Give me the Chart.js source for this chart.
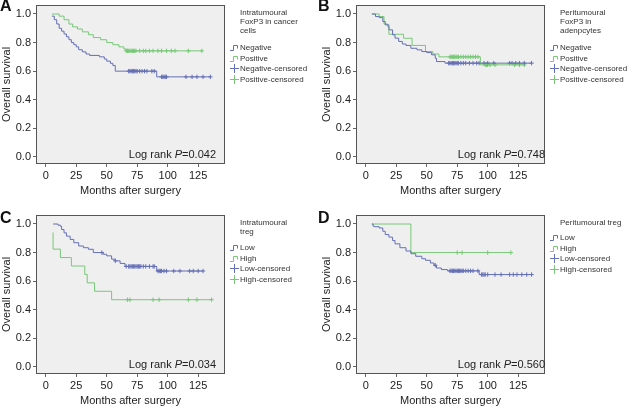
<!DOCTYPE html>
<html>
<head>
<meta charset="utf-8">
<script src="https://cdn.jsdelivr.net/npm/chart.js@4.4.1/dist/chart.umd.min.js"></script>
<style>
    body { margin: 0; background: #fff; font-family: "Liberation Sans", Arial, sans-serif; color: #222; }
    #wrap { position: relative; width: 632px; height: 407px; overflow: hidden; }
    #wrap canvas { position: absolute; }
    .tag { position: absolute; font-weight: bold; font-size: 16px; line-height: 16px; color: #111; }
    .logrank { position: absolute; font-size: 11px; line-height: 13px; text-align: right; white-space: nowrap; }
    .leg { position: absolute; font-size: 8px; line-height: 9px; color: #333; white-space: nowrap; }
    .row { display: flex; align-items: center; gap: 1px; height: 9px; }
    .row svg { flex: none; }
</style>
</head>
<body>
<div id="wrap"></div>
<script>
const xTicks = [0, 25, 50, 75, 100, 125];
const yTicks = [0, 0.2, 0.4, 0.6, 0.8, 1.0];

// A - intratumoural FoxP3 in cancer cells
const aNegTime = [5, 7, 9, 11, 13, 15, 17, 19, 21, 23, 25, 27, 30, 33, 36, 44, 48, 50, 53, 55, 57, 91, 135];
const aNegSurv = [0.985, 0.96, 0.93, 0.90, 0.88, 0.86, 0.84, 0.82, 0.80, 0.785, 0.77, 0.75, 0.735, 0.72, 0.71, 0.70, 0.685, 0.67, 0.655, 0.64, 0.60, 0.56, 0.56];
const aNegCens = [68, 69, 70, 71, 72, 73, 74, 75, 77, 79, 81, 83, 87, 89, 95, 96, 97, 98, 99, 115, 120, 124, 129, 135];
const aPosTime = [5, 11, 15, 19, 22, 26, 30, 35, 39, 45, 50, 55, 60, 64, 66, 128];
const aPosSurv = [1.0, 0.985, 0.96, 0.93, 0.91, 0.895, 0.875, 0.855, 0.835, 0.82, 0.80, 0.785, 0.77, 0.755, 0.742, 0.742];
const aPosCens = [66, 67, 68, 69, 70, 71, 72, 73, 74, 77, 80, 82, 85, 88, 92, 95, 99, 103, 106, 117, 128];

// B - peritumoural FoxP3 in adenpcytes
const bNegTime = [5, 8, 11, 14, 16, 19, 22, 24, 27, 30, 33, 37, 42, 46, 50, 54, 57, 58, 65, 136];
const bNegSurv = [1.0, 0.982, 0.975, 0.947, 0.924, 0.889, 0.854, 0.831, 0.808, 0.79, 0.78, 0.76, 0.749, 0.737, 0.73, 0.714, 0.69, 0.667, 0.656, 0.656];
const bNegCens = [68, 69, 70, 71, 72, 73, 74, 75, 76, 78, 80, 82, 85, 88, 91, 93, 97, 100, 105, 118, 120, 123, 126, 130, 136];
const bPosTime = [5, 11, 15, 18, 19, 31, 38, 49, 55, 60, 94, 130];
const bPosSurv = [1.0, 0.982, 0.93, 0.91, 0.858, 0.83, 0.78, 0.737, 0.72, 0.70, 0.644, 0.644];
const bPosCens = [69, 70, 71, 72, 73, 74, 75, 76, 78, 80, 82, 84, 86, 88, 90, 92, 98, 99, 100, 102, 106, 122, 126, 130];

// C - intratumoural treg
const cLowTime = [6, 10, 12, 13, 15, 17, 20, 23, 27, 31, 35, 39, 47, 50, 54, 57, 61, 65, 91, 129];
const cLowSurv = [1.0, 0.992, 0.984, 0.961, 0.938, 0.915, 0.892, 0.869, 0.846, 0.834, 0.823, 0.80, 0.788, 0.777, 0.754, 0.742, 0.724, 0.703, 0.671, 0.671];
const cLowCens = [46, 57, 66, 68, 69, 70, 71, 72, 73, 74, 75, 76, 77, 78, 80, 82, 85, 88, 89, 92, 93, 94, 95, 97, 99, 105, 110, 118, 121, 125, 129];
const cHighTime = [6, 6, 12, 21, 32, 34, 40, 54, 136];
const cHighSurv = [0.941, 0.824, 0.765, 0.706, 0.647, 0.588, 0.529, 0.47, 0.47];
const cHighCens = [67, 69, 88, 93, 117, 124, 136];

// D - peritumoural treg
const dLowTime = [5, 6, 7, 11, 14, 16, 19, 22, 24, 28, 33, 37, 41, 46, 49, 53, 56, 58, 62, 67, 93, 136];
const dLowSurv = [1.0, 0.985, 0.981, 0.972, 0.949, 0.926, 0.908, 0.884, 0.861, 0.834, 0.811, 0.792, 0.774, 0.757, 0.746, 0.727, 0.711, 0.692, 0.681, 0.672, 0.646, 0.646];
const dLowCens = [57, 69, 70, 71, 72, 73, 74, 75, 76, 77, 78, 79, 80, 82, 84, 86, 88, 92, 95, 96, 97, 98, 100, 106, 111, 118, 121, 124, 128, 132, 136];
const dHighTime = [5, 37, 119];
const dHighSurv = [1.0, 0.80, 0.80];
const dHighCens = [75, 79, 100, 119];

const BLUE = "#6570b4";
const GREEN = "#78c878";

const panels = [
    { tag: "A", x: 0, y: 0, p: "0.042", title: ["Intratumoural", "FoxP3 in cancer", "cells"], names: ["Negative", "Positive"],
      s1: [aNegTime, aNegSurv, aNegCens], s2: [aPosTime, aPosSurv, aPosCens] },
    { tag: "B", x: 320, y: 0, p: "0.748", title: ["Peritumoural", "FoxP3 in", "adenpcytes"], names: ["Negative", "Positive"],
      s1: [bNegTime, bNegSurv, bNegCens], s2: [bPosTime, bPosSurv, bPosCens] },
    { tag: "C", x: 0, y: 210, p: "0.034", title: ["Intratumoural", "treg"], names: ["Low", "High"],
      s1: [cLowTime, cLowSurv, cLowCens], s2: [cHighTime, cHighSurv, cHighCens] },
    { tag: "D", x: 320, y: 210, p: "0.560", title: ["Peritumoural treg"], names: ["Low", "High"],
      s1: [dLowTime, dLowSurv, dLowCens], s2: [dHighTime, dHighSurv, dHighCens] }
];

function survAt(times, surv, t) {
    let s = surv[0];
    times.forEach((tt, i) => { if (tt <= t) s = surv[i]; });
    return s;
}

const stepIcon = c => `<svg width="9" height="7"><path d="M0 6.5H3.5V1.5H7.5V4.5" fill="none" stroke="${c}" stroke-width="1"/></svg>`;
const crossIcon = c => `<svg width="9" height="9"><path d="M4.5 0V9M0 4.5H9" stroke="${c}" stroke-width="1"/></svg>`;

const frame = {
    id: "frame",
    beforeDraw(chart) {
        const { ctx, chartArea: a } = chart;
        ctx.save();
        ctx.fillStyle = "#efefef";
        ctx.fillRect(a.left, a.top, a.width, a.height);
        ctx.restore();
    },
    afterDraw(chart) {
        const { ctx, chartArea: a } = chart;
        ctx.save();
        ctx.strokeStyle = "#555";
        ctx.lineWidth = 1;
        ctx.strokeRect(a.left + 0.5, a.top + 0.5, a.width - 1, a.height - 1);
        ctx.restore();
    }
};

const wrap = document.getElementById("wrap");

panels.forEach(pn => {
    const canvas = document.createElement("canvas");
    canvas.width = 232;
    canvas.height = 198;
    canvas.style.left = pn.x + "px";
    canvas.style.top = pn.y + "px";
    wrap.appendChild(canvas);

    const curve = ([t, s], color) => ({
        type: "line", data: t.map((v, i) => ({ x: v, y: s[i] })), borderColor: color, borderWidth: 1,
        stepped: true, pointRadius: 0, fill: false, showLine: true
    });
    const cens = ([t, s, c], color) => ({
        type: "scatter", data: c.map(v => ({ x: v, y: survAt(t, s, v) })), borderColor: color,
        backgroundColor: color, pointStyle: "cross", pointRadius: 2.2, borderWidth: 1, showLine: false
    });

    const tickFont = { family: "'Liberation Sans', Arial, sans-serif", size: 11 };
    new Chart(canvas, {
        type: "scatter",
        data: { datasets: [curve(pn.s1, BLUE), curve(pn.s2, GREEN), cens(pn.s1, BLUE), cens(pn.s2, GREEN)] },
        options: {
            responsive: false,
            animation: false,
            layout: { padding: { left: 0, top: 5, right: 7, bottom: 0 } },
            plugins: { legend: { display: false }, tooltip: { enabled: false } },
            scales: {
                x: {
                    type: "linear", min: -8, max: 147,
                    afterBuildTicks: s => { s.ticks = xTicks.map(v => ({ value: v })); },
                    afterFit: s => { s.height = 34; s.paddingLeft = 0; s.paddingRight = 0; },
                    ticks: { color: "#222", font: tickFont, padding: 2, maxRotation: 0 },
                    grid: { drawOnChartArea: false, drawTicks: true, tickLength: 3, color: "#666" },
                    border: { display: false },
                    title: { display: true, text: "Months after surgery", color: "#222", font: tickFont, padding: 0 }
                },
                y: {
                    type: "linear", min: -0.05, max: 1.063,
                    afterBuildTicks: s => { s.ticks = yTicks.map(v => ({ value: v })); },
                    afterFit: s => { s.width = 36; s.paddingTop = 0; s.paddingBottom = 0; },
                    ticks: { color: "#222", font: tickFont, padding: 2, callback: v => v.toFixed(1) },
                    grid: { drawOnChartArea: false, drawTicks: true, tickLength: 3, color: "#666" },
                    border: { display: false },
                    title: { display: true, text: "Overall survival", color: "#222", font: tickFont, padding: 0 }
                }
            }
        },
        plugins: [frame]
    });

    const tag = document.createElement("div");
    tag.className = "tag";
    tag.textContent = pn.tag;
    tag.style.left = (pn.x === 0 ? 0 : pn.x - 2) + "px";
    tag.style.top = (pn.y === 0 ? -2 : pn.y) + "px";
    wrap.appendChild(tag);

    const lr = document.createElement("div");
    lr.className = "logrank";
    lr.innerHTML = `Log rank <i>P</i>=${pn.p}`;
    lr.style.left = pn.x + "px";
    lr.style.width = (pn.x === 0 ? 216 : 545 - pn.x) + "px";
    lr.style.top = (pn.y + 148) + "px";
    wrap.appendChild(lr);

    const lx = pn.x + 230;
    const titleTop = pn.y + 8;
    const leg = document.createElement("div");
    leg.className = "leg";
    leg.style.left = (lx + 10) + "px";
    leg.style.top = titleTop + "px";
    leg.innerHTML = pn.title.join("<br>");
    wrap.appendChild(leg);

    const itemsTop = pn.y + (pn.title.length === 3 ? 43 : pn.title.length === 2 ? 33 : 23);
    const items = [
        [stepIcon(BLUE), pn.names[0]],
        [stepIcon(GREEN), pn.names[1]],
        [crossIcon(BLUE), pn.names[0] + "-censored"],
        [crossIcon(GREEN), pn.names[1] + "-censored"]
    ];
    items.forEach(([icon, label], i) => {
        const row = document.createElement("div");
        row.className = "leg row";
        row.style.left = lx + "px";
        row.style.top = (itemsTop + i * 10.6) + "px";
        row.innerHTML = icon + `<span>${label}</span>`;
        wrap.appendChild(row);
    });
});
</script>
</body>
</html>
